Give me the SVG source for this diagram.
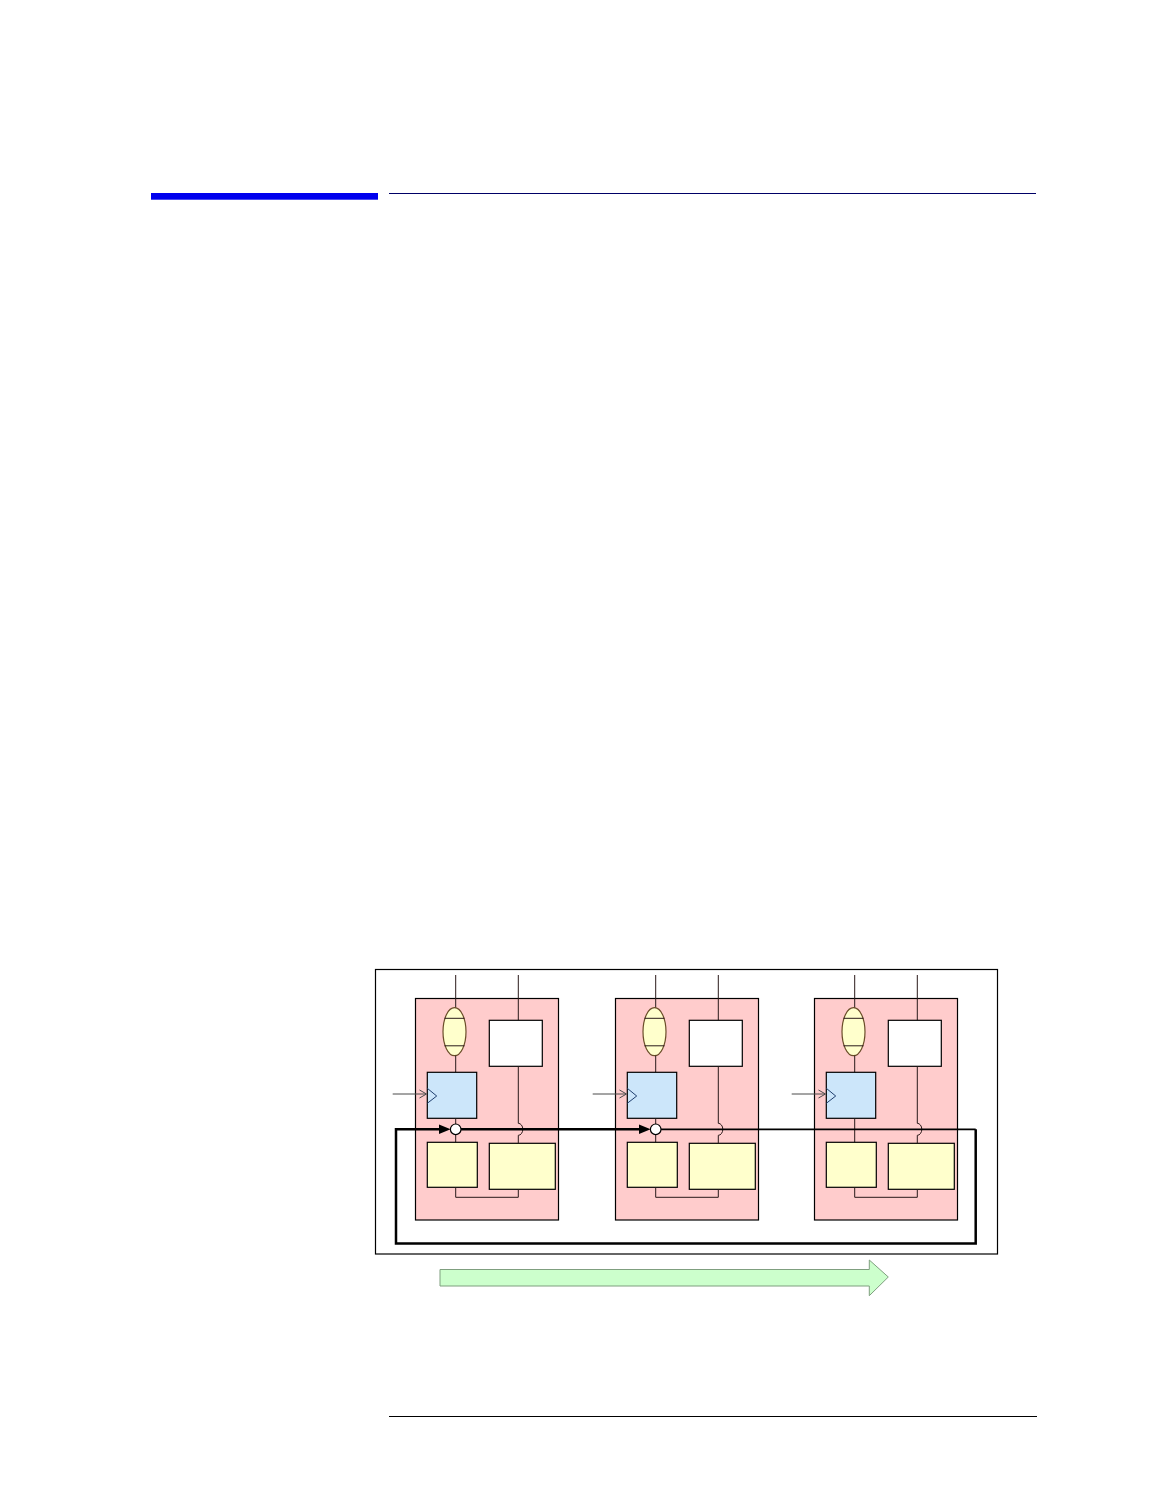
<svg xmlns="http://www.w3.org/2000/svg" width="1164" height="1506" viewBox="0 0 1164 1506">
<style>
.pink{fill:#ffcccc;stroke:#000;stroke-width:1.2}
.wht{fill:#fff;stroke:#000;stroke-width:1.2}
.yel{fill:#ffffcc;stroke:#000;stroke-width:1.2}
.blu{fill:#cce6fa;stroke:#000;stroke-width:1.2}
.ell{fill:#ffffcc;stroke:#6b4e2a;stroke-width:1.2}
.ln{fill:none;stroke:#2a1a1a;stroke-width:1}
.clk{fill:none;stroke:#1f3f6f;stroke-width:1}
.inp{fill:none;stroke:#4a4a4a;stroke-width:1}
.bus{fill:none;stroke:#000;stroke-width:2.5}
.bus2{fill:none;stroke:#000;stroke-width:1.8}
</style>
<defs>
<g id="cell">
<rect class="pink" x="415.5" y="998.5" width="143" height="221.5"/>
<line class="ln" x1="455.7" y1="975" x2="455.7" y2="1008"/>
<ellipse class="ell" cx="454.5" cy="1031.7" rx="11.5" ry="24"/>
<line class="ln" x1="444.5" y1="1018.3" x2="464.5" y2="1018.3"/>
<line class="ln" x1="444.5" y1="1045.8" x2="464.5" y2="1045.8"/>
<line class="ln" x1="455.7" y1="1055.7" x2="455.7" y2="1072.3"/>
<rect class="blu" x="427.3" y="1072.3" width="49.4" height="46"/>
<polyline class="clk" points="427.3,1088.3 436.7,1096 427.3,1103.3"/>
<line class="inp" x1="392.7" y1="1094" x2="426" y2="1094"/>
<polyline class="inp" points="419.5,1090 426.5,1094 419.5,1098"/>
<line class="ln" x1="455.7" y1="1118.3" x2="455.7" y2="1142.3"/>
<rect class="yel" x="427.3" y="1142.3" width="50" height="45"/>
<rect class="yel" x="489.3" y="1143.3" width="66" height="46"/>
<polyline class="ln" points="455.7,1187.3 455.7,1197.3 518.3,1197.3 518.3,1189.3"/>
<line class="ln" x1="518.3" y1="975" x2="518.3" y2="1020.3"/>
<rect class="wht" x="489.3" y="1020.3" width="53" height="46"/>
<path class="ln" d="M518.3,1066.3 V1123.3 a4.5,6 0 0 1 0,12 V1143.3"/>
</g>
<g id="tap">
<polygon points="439,1124.5 450.6,1129.3 439,1134" fill="#000"/>
<circle cx="455.7" cy="1129.3" r="5.3" fill="#fff" stroke="#000" stroke-width="1.2"/>
</g>
</defs>

<g id="header">
<rect x="151" y="193" width="227" height="6.7" fill="#0000ee"/>
<line x1="389" y1="193.5" x2="1036" y2="193.5" stroke="#000066" stroke-width="1"/>
</g>

<g id="frame">
<rect x="375.5" y="969.5" width="622" height="284.5" fill="none" stroke="#000" stroke-width="1.2"/>
</g>

<g id="cell1"><use href="#cell"/></g>
<g id="cell2"><use href="#cell" transform="translate(200,0)"/></g>
<g id="cell3"><use href="#cell" transform="translate(399,0)"/></g>

<g id="connectors">
<path class="bus" d="M975.7,1129.3 V1243.5 H396 V1129.3 H440"/>
<line class="bus" x1="460" y1="1129.3" x2="640" y2="1129.3"/>
<line class="bus2" x1="660" y1="1129.3" x2="975.7" y2="1129.3"/>
<use href="#tap"/>
<use href="#tap" transform="translate(200,0)"/>
</g>

<g id="flow-arrow">
<polygon points="440,1269.5 869.3,1269.5 869.3,1260 888.3,1277 869.3,1295.7 869.3,1286 440,1286" fill="#ccffcc" stroke="#7f9f7f" stroke-width="1"/>
</g>

<g id="footer">
<line x1="389" y1="1416.5" x2="1037" y2="1416.5" stroke="#000" stroke-width="1.2"/>
</g>
</svg>
